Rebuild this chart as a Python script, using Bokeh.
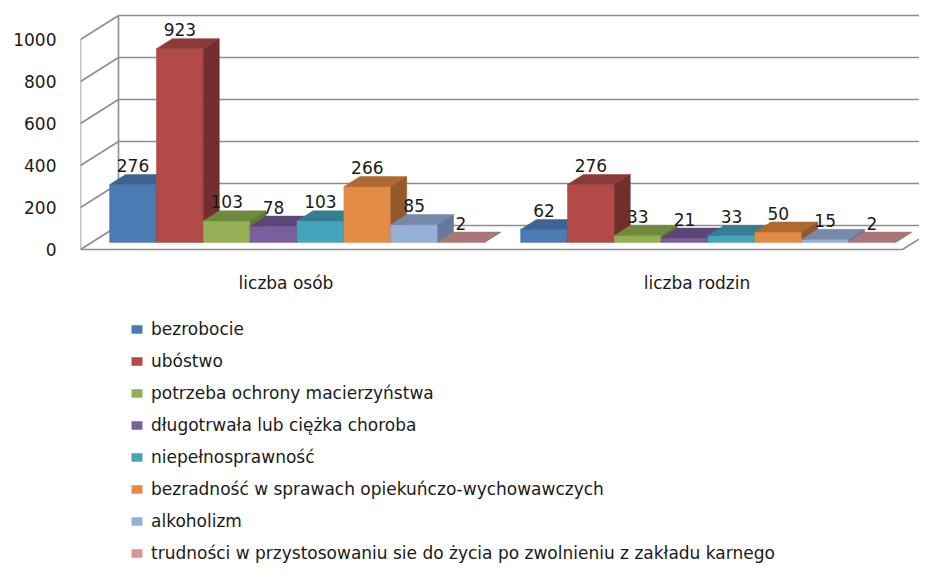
from bokeh.plotting import figure
from bokeh.models import Range1d, Legend, LegendItem, FixedTicker
from bokeh.embed import file_html
from bokeh.resources import INLINE
from bokeh.core.properties import value

# ---------------- data ----------------
categories = ["liczba osób", "liczba rodzin"]
series = [
    "bezrobocie",
    "ubóstwo",
    "potrzeba ochrony macierzyństwa",
    "długotrwała lub ciężka choroba",
    "niepełnosprawność",
    "bezradność w sprawach opiekuńczo-wychowawczych",
    "alkoholizm",
    "trudności w przystosowaniu sie do życia po zwolnieniu z zakładu karnego",
]
liczba_osob = [276, 923, 103, 78, 103, 266, 85, 2]
liczba_rodzin = [62, 276, 33, 21, 33, 50, 15, 2]
y_ticks = [0, 200, 400, 600, 800, 1000]

front_colors = ["#4A7BB3", "#B24A47", "#95AF56", "#7B5F9C", "#46A3BC", "#E28B45", "#96AFD6", "#D69694"]
top_colors = ["#3C6391", "#8C3A38", "#6F8A3D", "#5C4677", "#357E92", "#AE6A31", "#7589AA", "#A87876"]
side_colors = ["#335580", "#722E2D", "#5F7733", "#4E3C66", "#2D6C7D", "#93592A", "#66799A", "#926664"]

# ---------------- layout constants ----------------
W, H = 919, 569
LEFT = 80            # frame left edge (front-left corner of the 3D box)
PX_X = 411.0         # px per category on the front edge
PX_Y = 0.21          # px per value unit
ZERO_Y = 249         # px from figure top of the front zero line
DX = 38 / PX_X       # depth offset, x
DY = 24 / PX_Y       # depth offset, y (value units)
D0, D1 = 0.29, 0.71  # bar depth extent
BAR_W = 0.114
GROUP_W = BAR_W * len(series)
FONT = "DejaVu Sans"
TXT = "#1a1a1a"
GRID = "#8e8e8e"

x_end = (W - LEFT) / PX_X
y_top = ZERO_Y / PX_Y
y_bot = -(H - ZERO_Y) / PX_Y

p = figure(width=W, height=H, x_range=Range1d(0, x_end), y_range=Range1d(y_bot, y_top),
           output_backend="svg", toolbar_location=None, x_axis_location=None, min_border=0)
p.min_border_left = LEFT
p.grid.visible = False
p.outline_line_color = None
p.background_fill_color = "white"
p.border_fill_color = "white"

ax = p.yaxis[0]
ax.ticker = FixedTicker(ticks=y_ticks)
ax.axis_line_color = None
ax.major_tick_line_color = None
ax.minor_tick_line_color = None
ax.major_tick_out = 0
ax.major_label_standoff = 24
ax.major_label_text_font = FONT
ax.major_label_text_font_size = "17px"
ax.major_label_text_color = TXT

# ---------------- walls & gridlines ----------------
n_cat = len(categories)
p.segment(x0=[DX] * len(y_ticks), y0=[t + DY for t in y_ticks],
          x1=[n_cat + DX] * len(y_ticks), y1=[t + DY for t in y_ticks],
          line_color=GRID, line_width=1.6)
p.segment(x0=[0] * len(y_ticks), y0=y_ticks,
          x1=[DX] * len(y_ticks), y1=[t + DY for t in y_ticks],
          line_color=GRID, line_width=1.6)
p.segment(x0=[0, DX], y0=[0, DY], x1=[0, DX], y1=[y_ticks[-1], y_ticks[-1] + DY],
          line_color=GRID, line_width=1.6)
p.segment(x0=[0, n_cat], y0=[0, 0], x1=[n_cat, n_cat + DX], y1=[0, DY],
          line_color=GRID, line_width=1.6)

# ---------------- 3D bars ----------------
legend_items = []
label_x, label_y, label_t = [], [], []
for i, name in enumerate(series):
    vals = [liczba_osob[i], liczba_rodzin[i]]
    x0s = [g + (1 - GROUP_W) / 2 + i * BAR_W for g in range(n_cat)]
    fl = [x + D0 * DX for x in x0s]
    fr = [x + BAR_W + D0 * DX for x in x0s]
    front = p.quad(left=fl, right=fr, bottom=[D0 * DY] * n_cat,
                   top=[v + D0 * DY for v in vals],
                   fill_color=front_colors[i], line_color=front_colors[i], line_width=0.5)
    p.patches(xs=[[x + D0 * DX, x + BAR_W + D0 * DX, x + BAR_W + D1 * DX, x + D1 * DX] for x in x0s],
              ys=[[v + D0 * DY, v + D0 * DY, v + D1 * DY, v + D1 * DY] for v in vals],
              fill_color=top_colors[i], line_color=top_colors[i], line_width=0.5)
    p.patches(xs=[[x + BAR_W + D0 * DX, x + BAR_W + D1 * DX, x + BAR_W + D1 * DX, x + BAR_W + D0 * DX] for x in x0s],
              ys=[[D0 * DY, D1 * DY, v + D1 * DY, v + D0 * DY] for v in vals],
              fill_color=side_colors[i], line_color=side_colors[i], line_width=0.5)
    legend_items.append(LegendItem(label=name, renderers=[front]))
    for x, v in zip(x0s, vals):
        label_x.append(x + BAR_W / 2 + D0 * DX)
        label_y.append(v + D0 * DY + 19 / PX_Y)
        label_t.append(str(v))

p.text(x=label_x, y=label_y, text=label_t, text_align="center", text_baseline="middle",
       text_font=value(FONT), text_font_size="17px", text_color=TXT)

# category labels
p.text(x=[c + 0.5 for c in range(n_cat)], y=[-33 / PX_Y] * n_cat, text=categories,
       text_align="center", text_baseline="middle",
       text_font=value(FONT), text_font_size="17px", text_color=TXT)

legend = Legend(items=legend_items, location=(50, 6), orientation="vertical",
                glyph_width=13, glyph_height=10, label_height=14, spacing=12,
                label_standoff=8, padding=0, margin=0,
                border_line_color=None, background_fill_alpha=0,
                label_text_font=FONT, label_text_font_size="17px", label_text_color=TXT)
p.add_layout(legend)

open("out.html", "w").write(file_html(p, INLINE))
